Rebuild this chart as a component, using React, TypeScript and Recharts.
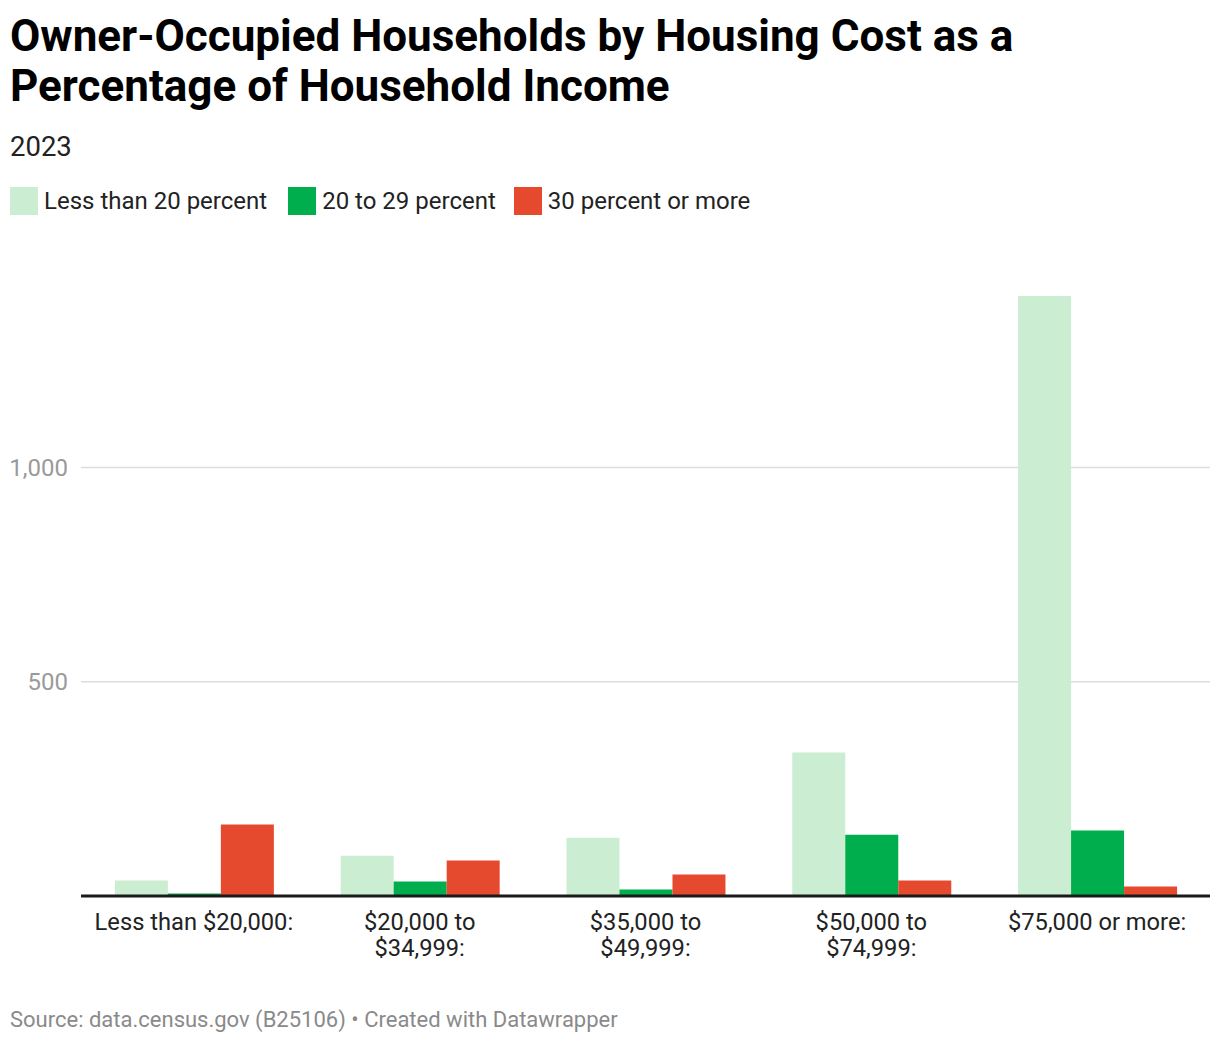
import React from "react";
import { BarChart, Bar, XAxis, YAxis, CartesianGrid } from "recharts";

const categories = [
  "Less than $20,000:",
  "$20,000 to $34,999:",
  "$35,000 to $49,999:",
  "$50,000 to $74,999:",
  "$75,000 or more:",
];
const categoryLines = [
  ["Less than $20,000:"],
  ["$20,000 to", "$34,999:"],
  ["$35,000 to", "$49,999:"],
  ["$50,000 to", "$74,999:"],
  ["$75,000 or more:"],
];
const lessThan20 = [36, 94, 136, 335, 1400];
const from20to29 = [6, 34, 15, 143, 153];
const over30 = [167, 83, 50, 36, 22];
const yTicks = [500, 1000];

const seriesNames = ["Less than 20 percent", "20 to 29 percent", "30 percent or more"];
const seriesColors = ["#cbeed2", "#00ae4d", "#e54a2f"];
const legendGaps = [21, 18, 0];

const data = categories.map((c, i) => ({
  name: c,
  a: lessThan20[i],
  b: from20to29[i],
  c: over30[i],
}));

const FONT = "Roboto, 'Noto Sans', sans-serif";

const XTick = (props: any) => {
  const { x, y, index } = props;
  const lines = categoryLines[index] || [];
  return (
    <g>
      {lines.map((l: string, i: number) => (
        <text
          key={i}
          x={x}
          y={y + 26 + i * 26}
          textAnchor="middle"
          fill="#222"
          fontSize={23.7}
          fontFamily={FONT}
        >
          {l}
        </text>
      ))}
    </g>
  );
};

export default function App() {
  return (
    <div style={{ position: "relative", width: 1212, height: 1030, fontFamily: FONT, background: "#fff" }}>
      <div
        style={{
          position: "absolute",
          left: 2,
          top: 3,
          fontSize: 44,
          fontWeight: 700,
          lineHeight: "50px",
          color: "#000",
          width: 1210,
          whiteSpace: "nowrap",
        }}
      >
        Owner-Occupied Households by Housing Cost as a<br />Percentage of Household Income
      </div>
      <div style={{ position: "absolute", left: 2, top: 122, fontSize: 27.5, color: "#222" }}>2023</div>
      <div style={{ position: "absolute", left: 2, top: 179, display: "flex", alignItems: "center" }}>
        {seriesNames.map((n, i) => (
          <div key={n} style={{ display: "flex", alignItems: "center", marginRight: legendGaps[i] }}>
            <div style={{ width: 28, height: 28, background: seriesColors[i], marginRight: 6 }} />
            <span style={{ fontSize: 24, color: "#222" }}>{n}</span>
          </div>
        ))}
      </div>
      <div style={{ position: "absolute", left: 0, top: 250 }}>
        <BarChart
          width={1204}
          height={740}
          data={data}
          margin={{ top: 38, right: 2, bottom: 22, left: 0 }}
          barCategoryGap="15%"
          barGap={0}
        >
          <CartesianGrid vertical={false} horizontalValues={yTicks} stroke="#dddddd" strokeWidth={1.5} />
          <XAxis
            dataKey="name"
            interval={0}
            tick={<XTick />}
            tickLine={false}
            axisLine={{ stroke: "#1a1a1a", strokeWidth: 3 }}
            height={80}
          />
          <YAxis
            width={73}
            domain={[0, 1400]}
            ticks={yTicks}
            allowDataOverflow
            tickLine={false}
            axisLine={false}
            tickFormatter={(v: number) => v.toLocaleString("en-US")}
            tick={{ fill: "#9a9a9a", fontSize: 24, fontFamily: FONT }}
            tickMargin={7}
          />
          <Bar dataKey="a" fill={seriesColors[0]} isAnimationActive={false} />
          <Bar dataKey="b" fill={seriesColors[1]} isAnimationActive={false} />
          <Bar dataKey="c" fill={seriesColors[2]} isAnimationActive={false} />
        </BarChart>
      </div>
      <div style={{ position: "absolute", left: 2, top: 999, fontSize: 22, color: "#8a8a8a" }}>
        Source: data.census.gov (B25106) • Created with Datawrapper
      </div>
    </div>
  );
}
